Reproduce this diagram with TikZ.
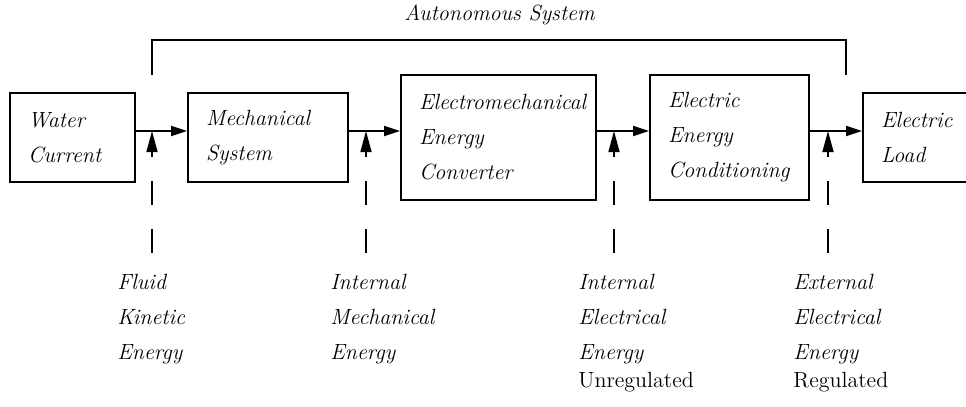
\documentclass[tikz,border=0pt]{standalone}
\usetikzlibrary{arrows.meta}
\begin{document}
\begin{tikzpicture}[x=0.5pt,y=-0.5pt,
  txt/.style={font=\fontsize{11}{17.5}\selectfont\itshape},
  blk/.style={draw,line width=1pt,txt,align=left,inner xsep=9pt,inner ysep=0pt},
  flow/.style={line width=1pt,-{Triangle[length=8pt,width=5pt]}},
  probe/.style={line width=0.8pt,dash pattern=on 12pt off 12pt,-{Triangle[length=10.5pt,width=5.5pt]}},
  lbl/.style={txt,align=left,anchor=north west,inner sep=0pt},
  frame/.style={line width=1pt}]
\clip (0,0) rectangle (966,407);
% blocks
\node[blk,minimum width=62.5pt,minimum height=44.5pt,text width=44.5pt] (wc) at (72.5,137.5) {Water\\Current};
\node[blk,minimum width=80pt,minimum height=44.5pt,text width=62pt] (ms) at (268,137.5) {Mechanical\\System};
\node[blk,minimum width=97.5pt,minimum height=62.5pt,text width=79.5pt] (em) at (498.5,137.5) {Electromechanical\\Energy\\Converter};
\node[blk,minimum width=79.5pt,minimum height=62.5pt,text width=61.5pt] (ec) at (729.5,137.5) {Electric\\Energy\\Conditioning};
\node[blk,minimum width=63.5pt,minimum height=44.5pt,text width=45.5pt] (el) at (926.5,137.5) {Electric\\Load};
% flow row
\coordinate (row) at (0,131);
\draw[flow] (wc.east |- row) -- (ms.west |- row);
\draw[flow] (ms.east |- row) -- (em.west |- row);
\draw[flow] (em.east |- row) -- (ec.west |- row);
\draw[flow] (ec.east |- row) -- (el.west |- row);
% probe points
\coordinate (p1) at (152,131);  \coordinate (q1) at (152,253);
\coordinate (p2) at (366,131);  \coordinate (q2) at (366,253);
\coordinate (p3) at (614,131);  \coordinate (q3) at (614,253);
\coordinate (p4) at (828,131);  \coordinate (q4) at (828,253);
\draw[probe] (q1) -- (p1);
\draw[probe] (q2) -- (p2);
\draw[probe] (q3) -- (p3);
\draw[probe] (q4) -- (p4);
% autonomous system bracket
\coordinate (a1) at (152,75);
\coordinate (a2) at (846,75);
\draw[frame] (a1) -- (152,40) -- (846,40) -- (a2);
\node[txt,anchor=base,inner sep=0pt] (auto) at (499.5,20) {Autonomous System};
% energy labels
\node[lbl] (l1) at (117,273.5) {Fluid\\Kinetic\\Energy};
\node[lbl] (l2) at (330,273.5) {Internal\\Mechanical\\Energy};
\node[lbl] (l3) at (578,273.5) {Internal\\Electrical\\Energy\\[-3.5pt]\upshape Unregulated};
\node[lbl] (l4) at (793,273.5) {External\\Electrical\\Energy\\[-3.5pt]\upshape Regulated};
\end{tikzpicture}
\end{document}
